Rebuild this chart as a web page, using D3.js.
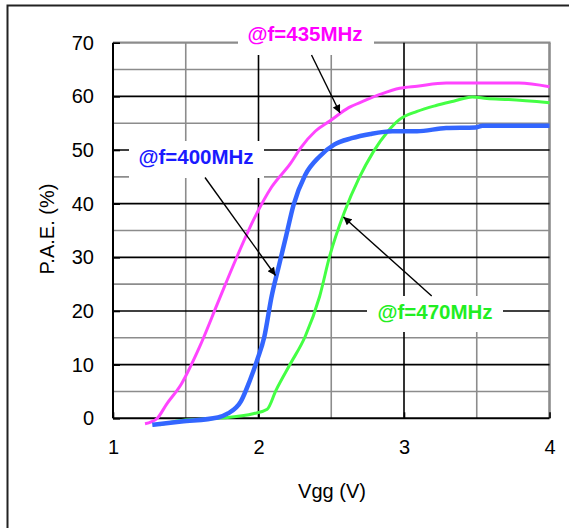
<!DOCTYPE html>
<html><head><meta charset="utf-8">
<script src="https://cdn.jsdelivr.net/npm/d3@7"></script>
<style>body{margin:0;background:#fff;}svg{display:block;}</style>
</head><body>
<script>
const xTicks = [1, 2, 3, 4];
const yTicks = [0, 10, 20, 30, 40, 50, 60, 70];
const xTitle = "Vgg (V)";
const yTitle = "P.A.E. (%)";

const seriesNames = ["@f=400MHz", "@f=435MHz", "@f=470MHz"];
const vgg400 = [1.27,1.47,1.72,1.79,1.88,1.94,1.99,2.04,2.09,2.14,2.19,2.24,2.32,2.42,2.52,2.64,2.77,2.92,3.09,3.29,3.49,3.54,4.0];
const pae400 = [-1.2,-0.6,0.15,0.9,3.2,7.0,10.8,15.2,22.7,28.4,34.0,39.7,45.3,48.8,51.0,52.2,53.0,53.5,53.5,54.1,54.2,54.5,54.5];
const vgg435 = [1.22,1.30,1.37,1.47,1.595,1.72,1.844,1.97,2.09,2.22,2.29,2.39,2.49,2.62,2.72,2.84,2.97,3.09,3.29,3.79,4.0];
const pae435 = [-1.0,-0.1,2.7,6.4,13.3,21.5,29.6,37.2,43.1,47.5,50.4,53.5,55.4,57.9,59.1,60.4,61.5,61.9,62.5,62.5,61.8];
const vgg470 = [1.32,1.47,1.72,1.97,2.06,2.12,2.22,2.32,2.42,2.49,2.59,2.69,2.79,2.89,2.97,3.09,3.22,3.34,3.47,3.57,3.72,4.0];
const pae470 = [-1.2,-0.4,0,0.9,1.7,5.2,10.2,15.2,22.7,30.3,38.4,44.7,49.7,53.5,55.7,57.2,58.3,59.1,59.9,59.6,59.4,58.8];

const W = 569, H = 528;
const m = {left: 113, right: 549.5, top: 42.7, bottom: 418.3};
const x = d3.scaleLinear().domain([1, 4]).range([m.left, m.right]);
const y = d3.scaleLinear().domain([0, 70]).range([m.bottom, m.top]);

const svg = d3.select("body").append("svg").attr("width", W).attr("height", H);
svg.append("rect").attr("width", W).attr("height", H).attr("fill", "#fff");

// outer frame
svg.append("path").attr("d", `M7.5,${H+5} L7.5,5.5 L${W+5},5.5`).attr("fill", "none")
  .attr("stroke", "#222").attr("stroke-width", 2);

const defs = svg.append("defs");
defs.append("marker").attr("id", "ah").attr("viewBox", "0 0 10 10").attr("refX", 10).attr("refY", 5)
  .attr("markerWidth", 10).attr("markerHeight", 8).attr("markerUnits", "userSpaceOnUse")
  .attr("orient", "auto").append("path").attr("d", "M0,0 L10,5 L0,10 Z").attr("fill", "#000");

const g = svg.append("g");
// minor gridlines
const yMinor = d3.range(5, 70, 10);
const xMinor = [1.5, 2.5, 3.5];
g.selectAll(".ym").data(yMinor).join("line").attr("x1", m.left).attr("x2", m.right)
  .attr("y1", d => y(d)).attr("y2", d => y(d)).attr("stroke", "#8c8c8c").attr("stroke-width", 1.6);
g.selectAll(".xm").data(xMinor).join("line").attr("y1", m.top).attr("y2", m.bottom)
  .attr("x1", d => x(d)).attr("x2", d => x(d)).attr("stroke", "#8c8c8c").attr("stroke-width", 1.6);
// top & right borders (gray)
g.append("line").attr("x1", m.left).attr("x2", m.right + 1).attr("y1", y(70)).attr("y2", y(70))
  .attr("stroke", "#8c8c8c").attr("stroke-width", 2.2);
g.append("line").attr("x1", m.right).attr("x2", m.right).attr("y1", m.top).attr("y2", m.bottom)
  .attr("stroke", "#8c8c8c").attr("stroke-width", 2.6);
// major gridlines
g.selectAll(".yM").data(yTicks.filter(d => d > 0 && d < 70)).join("line").attr("x1", m.left).attr("x2", m.right)
  .attr("y1", d => y(d)).attr("y2", d => y(d)).attr("stroke", "#000").attr("stroke-width", 1.6);
g.selectAll(".xM").data([2, 3]).join("line").attr("y1", m.top).attr("y2", m.bottom)
  .attr("x1", d => x(d)).attr("x2", d => x(d)).attr("stroke", "#000").attr("stroke-width", 1.6);

// axes
const yAxis = d3.axisLeft(y).tickValues(yTicks).tickSize(-7).tickPadding(19).tickFormat(d3.format("d"));
const xAxis = d3.axisBottom(x).tickValues(xTicks).tickSize(-6).tickPadding(22).tickFormat(d3.format("d"));
const ya = svg.append("g").attr("transform", `translate(${m.left},0)`).call(yAxis);
const xa = svg.append("g").attr("transform", `translate(0,${m.bottom})`).call(xAxis);
[ya, xa].forEach(a => {
  a.select(".domain").attr("stroke", "#000").attr("stroke-width", 2);
  a.selectAll(".tick line").attr("stroke", "#000").attr("stroke-width", 1.6);
  a.selectAll("text").attr("font-family", "Liberation Sans, Arial, sans-serif").attr("font-size", 20).attr("fill", "#000");
});
xa.select(".domain").attr("d", `M${m.left},0H${m.right}`);
ya.select(".domain").attr("d", `M0,${m.bottom}V${m.top}`);

svg.append("text").attr("x", 332).attr("y", 498).attr("text-anchor", "middle")
  .attr("font-family", "Liberation Sans, Arial, sans-serif").attr("font-size", 20).text(xTitle);
svg.append("text").attr("transform", "translate(54,229) rotate(-90)").attr("text-anchor", "middle")
  .attr("font-family", "Liberation Sans, Arial, sans-serif").attr("font-size", 20).text(yTitle);

// label boxes
const labels = [
  {name: seriesNames[1], color: "#ff00ff", box: [238, 12, 136, 43], tx: 305, ty: 41},
  {name: seriesNames[0], color: "#1a1aff", box: [129, 141, 135, 37], tx: 196, ty: 164},
  {name: seriesNames[2], color: "#22ee22", box: [367, 296, 136, 36], tx: 435, ty: 319},
];
labels.forEach(l => {
  svg.append("rect").attr("x", l.box[0]).attr("y", l.box[1]).attr("width", l.box[2]).attr("height", l.box[3]).attr("fill", "#fff");
});

// curves
const line = d3.line().x(d => x(d[0])).y(d => y(d[1])).curve(d3.curveMonotoneX);
const series = [
  {v: vgg435, p: pae435, color: "#ff44ff", w: 3},
  {v: vgg470, p: pae470, color: "#44ff44", w: 3},
  {v: vgg400, p: pae400, color: "#3366ff", w: 4.5},
];
series.forEach(s => {
  svg.append("path").datum(s.v.map((v, i) => [v, s.p[i]])).attr("d", line)
    .attr("fill", "none").attr("stroke", s.color).attr("stroke-width", s.w).attr("stroke-linejoin", "round");
});

labels.forEach(l => {
  svg.append("text").attr("x", l.tx).attr("y", l.ty).attr("text-anchor", "middle")
    .attr("font-family", "Liberation Sans, Arial, sans-serif").attr("font-weight", "bold").attr("font-size", 20.5)
    .attr("fill", l.color).text(l.name);
});

// arrows
const arrows = [[311.5, 55, 340, 113], [205, 177.5, 275.5, 275.5], [431.7, 296, 343.5, 217]];
arrows.forEach(a => {
  svg.append("line").attr("x1", a[0]).attr("y1", a[1]).attr("x2", a[2]).attr("y2", a[3])
    .attr("stroke", "#000").attr("stroke-width", 1.4).attr("marker-end", "url(#ah)");
});
</script>
</body></html>
